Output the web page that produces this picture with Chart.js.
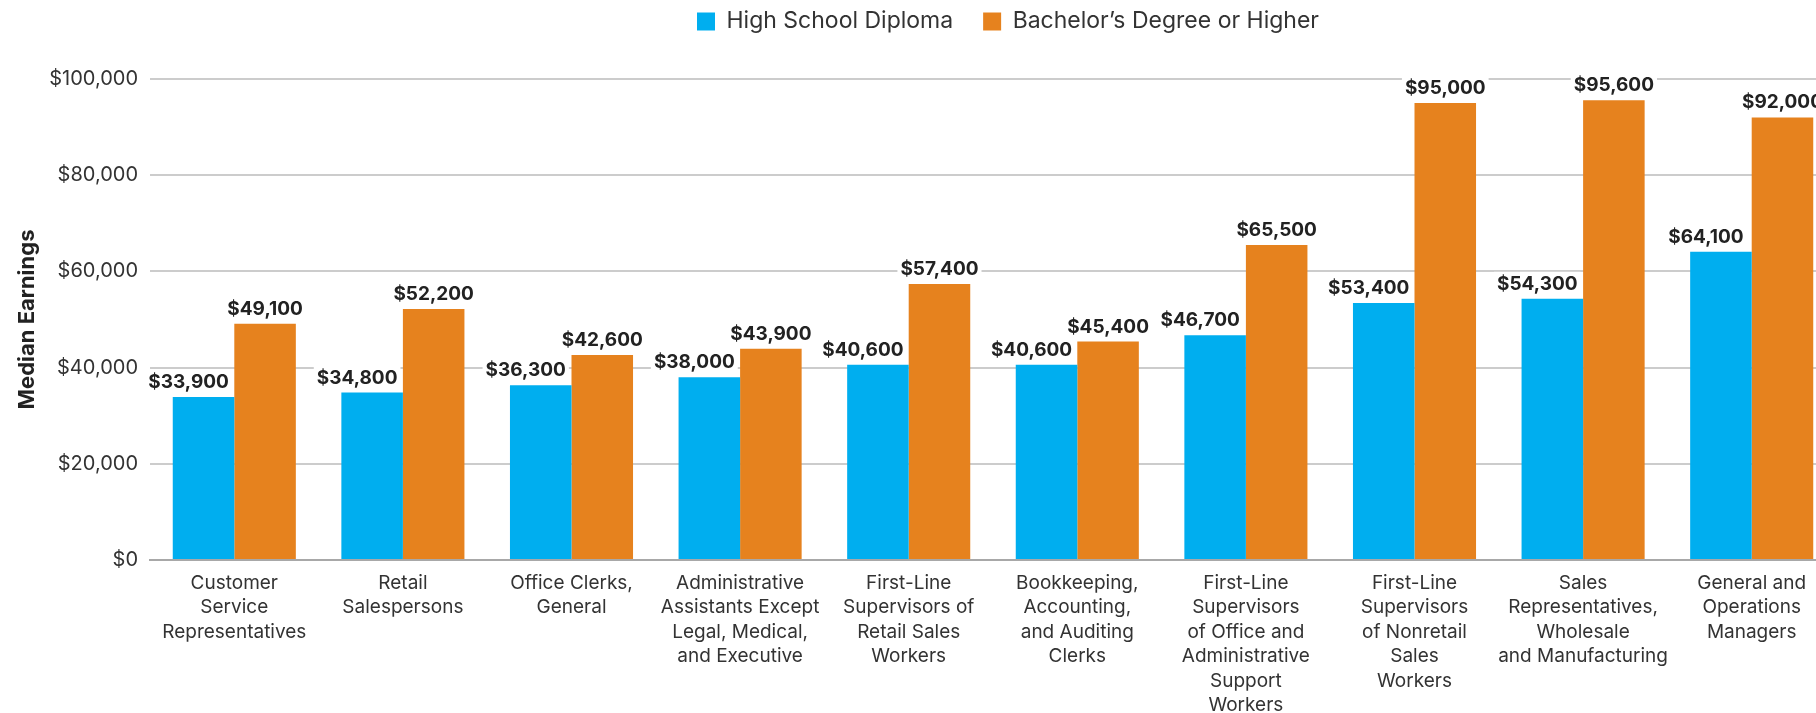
<!DOCTYPE html>
<html>
<head>
<meta charset="utf-8">
<script src="https://cdn.jsdelivr.net/npm/chart.js@4"></script>
<style>
  html, body { margin: 0; padding: 0; background: #fff; overflow: hidden; }
  #wrap { width: 1836px; height: 729px; position: relative; }
</style>
</head>
<body>
<div id="wrap"><canvas id="c"></canvas></div>
<script>
const categories = [
  ["Customer", "Service", "Representatives"],
  ["Retail", "Salespersons"],
  ["Office Clerks,", "General"],
  ["Administrative", "Assistants Except", "Legal, Medical,", "and Executive"],
  ["First-Line", "Supervisors of", "Retail Sales", "Workers"],
  ["Bookkeeping,", "Accounting,", "and Auditing", "Clerks"],
  ["First-Line", "Supervisors", "of Office and", "Administrative", "Support", "Workers"],
  ["First-Line", "Supervisors", "of Nonretail", "Sales", "Workers"],
  ["Sales", "Representatives,", "Wholesale", "and Manufacturing"],
  ["General and", "Operations", "Managers"]
];
const highSchool = [33900, 34800, 36300, 38000, 40600, 40600, 46700, 53400, 54300, 64100];
const bachelors = [49100, 52200, 42600, 43900, 57400, 45400, 65500, 95000, 95600, 92000];
const seriesNames = ["High School Diploma", "Bachelor\u2019s Degree or Higher"];
const yTicks = [0, 20000, 40000, 60000, 80000, 100000];

const FONT = "Inter, 'Liberation Sans', Arial, sans-serif";
const fmt = v => '$' + v.toLocaleString('en-US');

const valueLabels = {
  id: 'valueLabels',
  afterDatasetsDraw(chart) {
    const ctx = chart.ctx;
    ctx.save();
    ctx.font = 'bold 19px ' + FONT;
    ctx.textAlign = 'center';
    ctx.textBaseline = 'alphabetic';
    const shifts = [-15, 0];
    chart.data.datasets.forEach((ds, di) => {
      const meta = chart.getDatasetMeta(di);
      meta.data.forEach((bar, i) => {
        const text = fmt(ds.data[i]);
        const x = bar.x + shifts[di];
        const y = bar.y - 9;
        const w = ctx.measureText(text).width;
        ctx.fillStyle = '#ffffff';
        ctx.fillRect(x - w / 2 - 3, y - 18, w + 6, 22);
        ctx.fillStyle = '#222222';
        ctx.fillText(text, x, y);
      });
    });
    ctx.restore();
  }
};

const legendShift = {
  id: 'legendShift',
  afterLayout(chart) {
    const lg = chart.legend;
    if (!lg) return;
    const dy = -36;
    lg.top += dy; lg.bottom += dy;
    lg.left += 90; lg.right += 90;
  }
};

new Chart(document.getElementById('c'), {
  type: 'bar',
  data: {
    labels: categories,
    datasets: [
      { label: seriesNames[0], data: highSchool, backgroundColor: '#00AEEF', borderWidth: 0 },
      { label: seriesNames[1], data: bachelors, backgroundColor: '#E6821E', borderWidth: 0 }
    ]
  },
  options: {
    responsive: true,
    maintainAspectRatio: false,
    animation: false,
    layout: { padding: { top: 16, left: 0, right: 0, bottom: 0 } },
    datasets: { bar: { categoryPercentage: 0.73, barPercentage: 1.0 } },
    plugins: {
      legend: {
        position: 'top',
        labels: {
          font: { family: FONT, size: 23 },
          color: '#333333',
          boxWidth: 18,
          boxHeight: 18,
          padding: 30
        }
      },
      tooltip: { enabled: false }
    },
    scales: {
      x: {
        grid: { display: false, drawTicks: false },
        border: { display: true, color: '#a8a8a8', width: 2 },
        ticks: {
          font: { family: FONT, size: 19, lineHeight: 1.29 },
          color: '#333333',
          padding: 11,
          maxRotation: 0,
          autoSkip: false
        }
      },
      y: {
        min: 0,
        max: 100000,
        afterBuildTicks(axis) { axis.ticks = yTicks.map(v => ({ value: v })); },
        afterFit(axis) { axis.width = 150; },
        grid: { color: '#cccccc', lineWidth: 2, drawTicks: false },
        border: { display: false },
        ticks: {
          font: { family: FONT, size: 20 },
          color: '#333333',
          padding: 12,
          callback: v => fmt(v)
        },
        title: {
          display: true,
          text: 'Median Earnings',
          font: { family: FONT, size: 22, weight: 'bold' },
          color: '#222222',
          padding: { top: 14, bottom: 10 }
        }
      }
    }
  },
  plugins: [valueLabels, legendShift]
});
</script>
</body>
</html>
